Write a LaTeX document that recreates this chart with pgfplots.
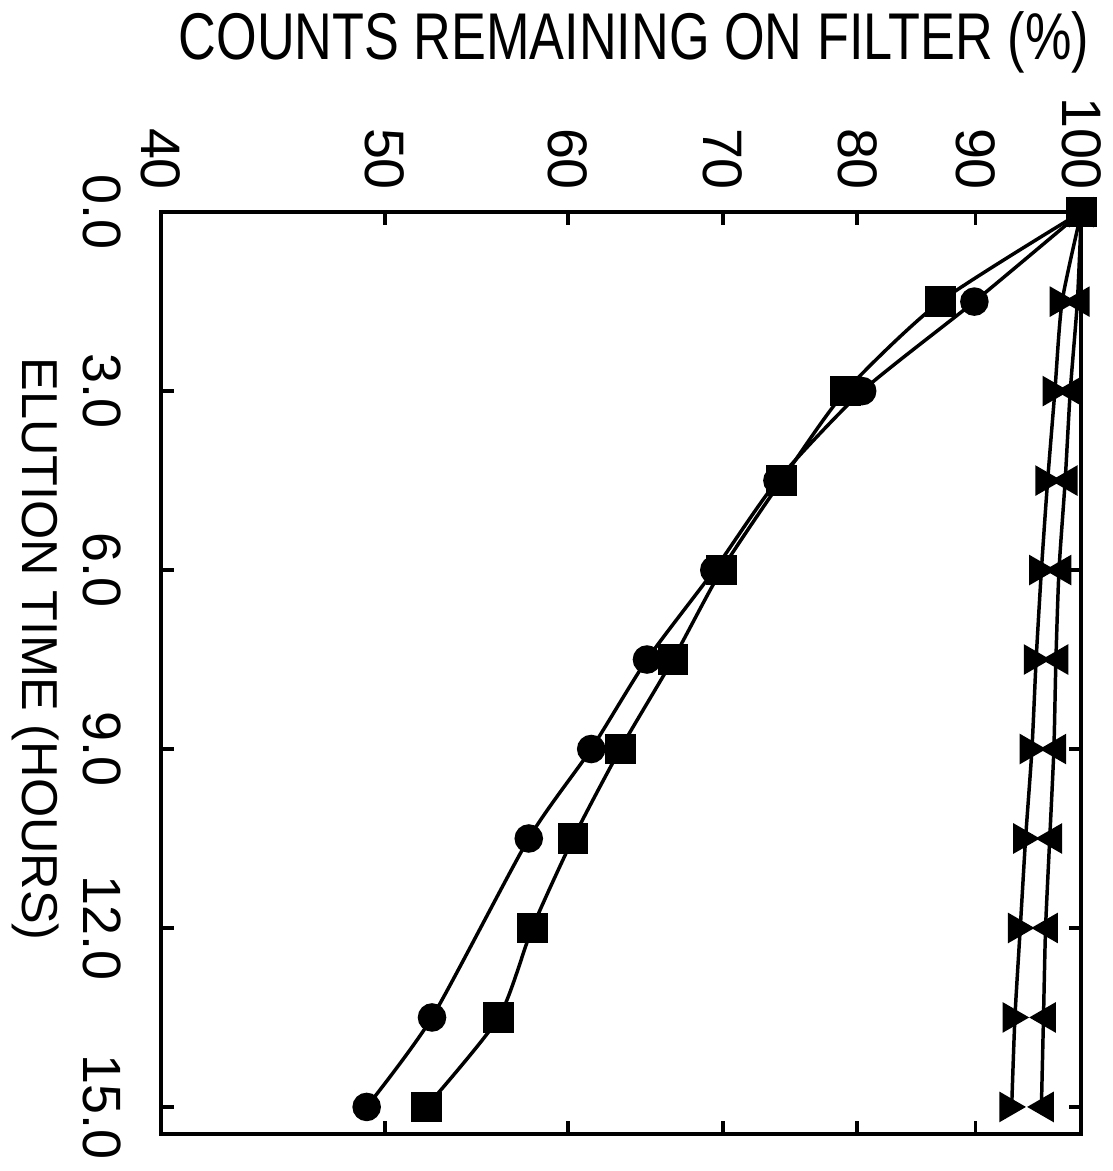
\documentclass[border=0pt]{standalone}
\usepackage{fontspec}
\setmainfont{Liberation Sans}
\usepackage{pgfplots}
\pgfplotsset{compat=1.18}

% counts remaining (%) vs elution time (h)
\pgfplotstableread{
cnt   t
100   0
89.9  1.5
80.4  3
73.9  4.5
69.4  6
64.9  7.5
61.4  9
57.7  10.5
52.4  13.5
49.1  15
}\circles
\pgfplotstableread{
cnt   t
100   0
86.9  1.5
79.1  3
74.2  4.5
69.9  6
66.6  7.5
63.2  9
60.3  10.5
57.9  12
56.0  13.5
52.1  15
}\squares
\pgfplotstableread{
cnt   t
100   0
98.1  1.5
97.4  3
96.7  4.5
96.1  6
95.6  7.5
95.2  9
94.6  10.5
94.1  12
93.6  13.5
93.3  15
}\trright
\pgfplotstableread{
cnt   t
100   0
99.6  1.5
98.9  3
98.4  4.5
97.8  6
97.5  7.5
97.3  9
96.9  10.5
96.5  12
96.3  13.5
96.1  15
}\trleft

\begin{document}
\begin{tikzpicture}
\begin{axis}[
    scale only axis,
    width=9.3cm, height=9.31cm,
    xmode=log, xmin=40, xmax=100,
    ymin=0, ymax=15.45, y dir=reverse,
    xtick={40,50,60,70,80,90,100},
    xticklabels={40,50,60,70,80,90,100},
    xminorticks=false,
    ytick={0,3,6,9,12,15},
    yticklabels={0.0,3.0,6.0,9.0,12.0,15.0},
    xticklabel pos=upper,
    tick align=inside,
    major tick length=0.13cm,
    axis line style={line width=1.1pt},
    every tick/.style={line width=1pt, black},
    xticklabel shift=0.1cm,
    yticklabel shift=0.28cm,
    xticklabel style={rotate=-90, anchor=east, font=\fontsize{16}{18}\selectfont},
    yticklabel style={rotate=-90, anchor=north, font=\fontsize{15.5}{17}\selectfont},
    xlabel={\scalebox{0.79}[1]{COUNTS REMAINING ON FILTER (\%)}},
    xlabel style={font=\fontsize{19}{21}\selectfont, xshift=0.13cm},
    ylabel={ELUTION TIME (HOURS)},
    ylabel style={rotate=180, xshift=-0.24cm, font=\fontsize{14.5}{16}\selectfont},
    clip=false,
    every axis plot/.append style={black, line width=1pt, smooth, tension=0.4},
]
\addplot[mark=triangle*, mark size=4.1pt, mark options={rotate=-90, yshift=-1pt}] table[x=cnt, y=t] {\trright};
\addplot[mark=triangle*, mark size=4.1pt, mark options={rotate=90, yshift=-1pt}] table[x=cnt, y=t] {\trleft};
\addplot[mark=*, mark size=3.6pt] table[x=cnt, y=t] {\circles};
\addplot[mark=square*, mark size=3.9pt] table[x=cnt, y=t] {\squares};
\end{axis}
\end{tikzpicture}
\end{document}
